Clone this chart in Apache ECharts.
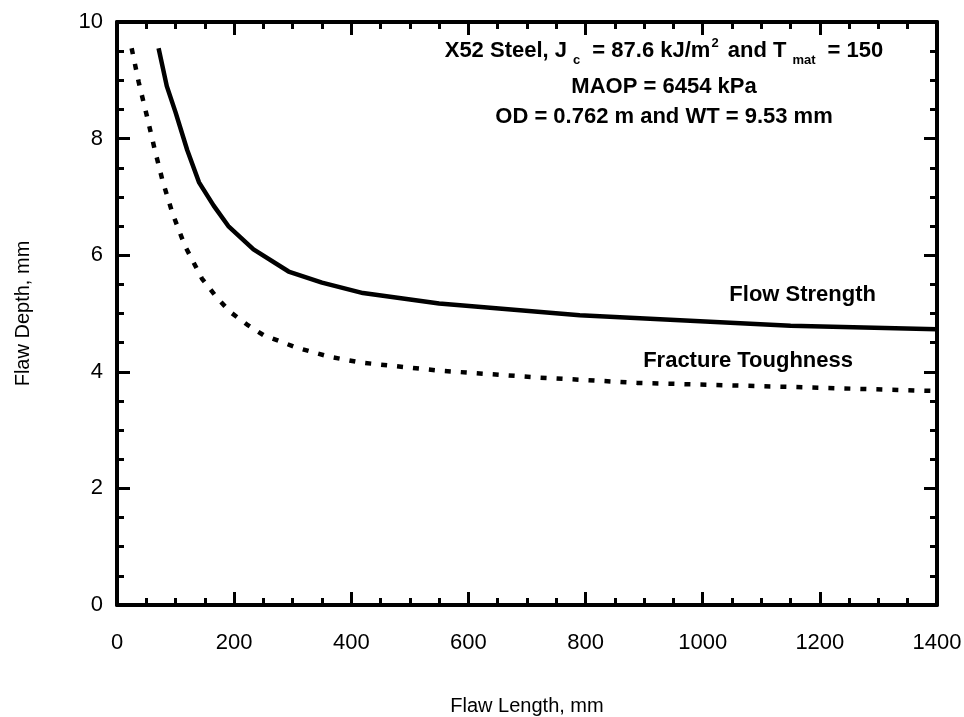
<!DOCTYPE html>
<html>
<head>
<meta charset="utf-8">
<script src="https://cdn.jsdelivr.net/npm/echarts@6/dist/echarts.min.js"></script>
<style>
  html, body { margin: 0; padding: 0; background: #fff; }
  #main { width: 964px; height: 717px; }
</style>
</head>
<body>
<div id="main"></div>
<script>
// flaw length (mm) vs flaw depth (mm)
let flowLength = [71, 85, 100, 120, 140, 165, 190, 233, 293, 350, 420, 550, 790, 1150, 1400];
let flowDepth = [9.55, 8.9, 8.45, 7.8, 7.25, 6.85, 6.5, 6.1, 5.72, 5.53, 5.35, 5.17, 4.97, 4.79, 4.73];

let toughLength = [25, 37, 51, 64, 78, 95, 116, 145, 169, 193, 222, 250, 305, 362, 415, 550, 723, 888, 1150, 1400];
let toughDepth = [9.55, 8.97, 8.39, 7.83, 7.27, 6.71, 6.16, 5.6, 5.29, 5.03, 4.81, 4.63, 4.42, 4.26, 4.16, 4.02, 3.9, 3.81, 3.74, 3.67];

let xTicks = [0, 1400, 200];
let yTicks = [0, 10, 2];

let font = "'Liberation Sans', Arial, sans-serif";

function pairs(xs, ys) {
  return xs.map(function (x, i) { return [x, ys[i]]; });
}

function axisBase(min, max, interval) {
  return {
    type: 'value',
    min: min,
    max: max,
    interval: interval,
    axisLine: { show: true, onZero: false, lineStyle: { color: '#000', width: 4 } },
    axisTick: { show: true, inside: true, length: 13, lineStyle: { color: '#000', width: 3 } },
    minorTick: { show: true, splitNumber: 4, length: 7, lineStyle: { color: '#000', width: 3 } },
    splitLine: { show: false },
    minorSplitLine: { show: false }
  };
}

let myChart = echarts.init(document.getElementById('main'));

let xBottom = Object.assign(axisBase(xTicks[0], xTicks[1], xTicks[2]), {
  position: 'bottom',
  name: 'Flaw Length, mm',
  nameLocation: 'middle',
  nameGap: 91,
  nameTextStyle: { fontFamily: font, fontSize: 20, color: '#000' },
  axisLabel: {
    margin: 27, fontFamily: font, fontSize: 22, color: '#000',
    formatter: function (v) { return String(v); }
  }
});
let xTop = Object.assign(axisBase(xTicks[0], xTicks[1], xTicks[2]), {
  position: 'top',
  axisLabel: { show: false }
});
let yLeft = Object.assign(axisBase(yTicks[0], yTicks[1], yTicks[2]), {
  position: 'left',
  name: 'Flaw Depth, mm',
  nameLocation: 'middle',
  nameGap: 84,
  nameTextStyle: { fontFamily: font, fontSize: 20, color: '#000' },
  axisLabel: { margin: 14, fontFamily: font, fontSize: 22, color: '#000' }
});
let yRight = Object.assign(axisBase(yTicks[0], yTicks[1], yTicks[2]), {
  position: 'right',
  axisLabel: { show: false }
});

let bold = { fontFamily: font, fontSize: 22, fontWeight: 'bold', fill: '#000' };

let option = {
  animation: false,
  backgroundColor: '#fff',
  grid: { left: 117, right: 27, top: 22, bottom: 112, outerBoundsMode: 'none', containLabel: false },
  xAxis: [xBottom, xTop],
  yAxis: [yLeft, yRight],
  series: [
    {
      name: 'Flow Strength',
      type: 'line',
      showSymbol: false,
      data: pairs(flowLength, flowDepth),
      lineStyle: { color: '#000', width: 4.5 }
    },
    {
      name: 'Fracture Toughness',
      type: 'line',
      showSymbol: false,
      data: pairs(toughLength, toughDepth),
      lineStyle: { color: '#000', width: 4.5, type: [6, 10], cap: 'butt' }
    }
  ],
  graphic: [
    {
      type: 'text',
      x: 664,
      y: 34,
      style: Object.assign({}, bold, {
        text: 'X52 Steel, J{sub|c} = 87.6 kJ/m{sup|2} and T{sub|mat} = 150',
        textAlign: 'center',
        rich: {
          sub: { fontFamily: font, fontSize: 13, fontWeight: 'bold', padding: [20, 6, 0, 6] },
          sup: { fontFamily: font, fontSize: 13, fontWeight: 'bold', padding: [0, 3, 14, 1] }
        }
      })
    },
    {
      type: 'text',
      x: 664,
      y: 76,
      style: Object.assign({}, bold, { text: 'MAOP = 6454 kPa', textAlign: 'center' })
    },
    {
      type: 'text',
      x: 664,
      y: 106,
      style: Object.assign({}, bold, { text: 'OD = 0.762 m and WT = 9.53 mm', textAlign: 'center' })
    },
    {
      type: 'text',
      x: 876,
      y: 284,
      style: Object.assign({}, bold, { text: 'Flow Strength', textAlign: 'right' })
    },
    {
      type: 'text',
      x: 853,
      y: 350,
      style: Object.assign({}, bold, { text: 'Fracture Toughness', textAlign: 'right' })
    }
  ]
};

myChart.setOption(option);
</script>
</body>
</html>
